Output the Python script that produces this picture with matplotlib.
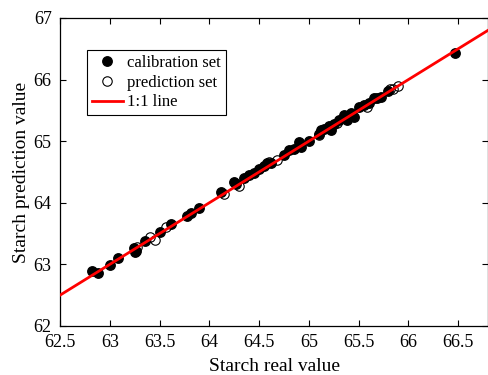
import matplotlib
matplotlib.use('Agg')
from matplotlib import pyplot as plt
import numpy as np

plt.rcParams['font.family'] = ['Liberation Serif', 'DejaVu Serif']

# calibration set (real, predicted)
cal_real = [62.82, 62.88, 63.00, 63.08, 63.24, 63.25, 63.26, 63.35, 63.50, 63.62,
            63.78, 63.82, 63.90, 64.12, 64.25, 64.27, 64.35, 64.40, 64.45, 64.50,
            64.55, 64.58, 64.62, 64.75, 64.80, 64.85, 64.90, 64.92, 65.00, 65.10,
            65.12, 65.15, 65.20, 65.22, 65.25, 65.30, 65.35, 65.38, 65.42, 65.45,
            65.50, 65.55, 65.60, 65.65, 65.68, 65.72, 65.80, 66.47]
cal_pred = [62.90, 62.86, 62.99, 63.10, 63.27, 63.20, 63.22, 63.38, 63.52, 63.65,
            63.79, 63.83, 63.92, 64.18, 64.33, 64.30, 64.40, 64.45, 64.48, 64.55,
            64.60, 64.65, 64.65, 64.78, 64.85, 64.88, 64.98, 64.90, 65.00, 65.12,
            65.18, 65.20, 65.25, 65.18, 65.28, 65.35, 65.42, 65.35, 65.45, 65.40,
            65.55, 65.58, 65.62, 65.70, 65.70, 65.72, 65.82, 66.43]

# prediction set
pre_real = [63.27, 63.40, 63.45, 63.56, 64.15, 64.30, 64.60, 64.68, 65.10, 65.28,
            65.58, 65.82, 65.85, 65.90]
pre_pred = [63.28, 63.45, 63.40, 63.60, 64.15, 64.28, 64.66, 64.70, 65.10, 65.30,
            65.55, 65.85, 65.84, 65.90]

xlim = (62.5, 66.8)
ylim = (62, 67)

fig = plt.figure(figsize=(4.89, 3.75), dpi=100)
ax = fig.add_axes([0.1227, 0.1307, 0.8753, 0.8213])

ax.plot(cal_real, cal_pred, 'o', color='k', markersize=6.8, label='calibration set', zorder=2)
ax.plot(pre_real, pre_pred, 'o', markerfacecolor='none', markeredgecolor='k',
        markeredgewidth=0.8, markersize=6.8, label='prediction set', zorder=3)
line = np.array(xlim)
ax.plot(line, line, color='red', linewidth=2, label='1:1 line', zorder=4)

ax.set_xlim(xlim)
ax.set_ylim(ylim)
ax.set_xticks(np.arange(62.5, 66.6, 0.5))
ax.set_xticklabels(['62.5', '63', '63.5', '64', '64.5', '65', '65.5', '66', '66.5'])
ax.set_yticks(np.arange(62, 67.1, 1))
ax.tick_params(direction='in', top=True, right=True, labelsize=13, length=4, width=0.8, pad=6)
for s in ax.spines.values():
    s.set_linewidth(0.9)
ax.set_xlabel('Starch real value', fontsize=14, labelpad=5)
ax.set_ylabel('Starch prediction value', fontsize=14, labelpad=3)

leg = ax.legend(loc='upper left', bbox_to_anchor=(0.062, 0.896), fontsize=12,
                fancybox=False, edgecolor='k', framealpha=1, handlelength=1.9,
                borderpad=0.3, labelspacing=0.22, handletextpad=0.25, borderaxespad=0)
leg.get_frame().set_linewidth(0.8)

plt.savefig('out.png', dpi=100)
